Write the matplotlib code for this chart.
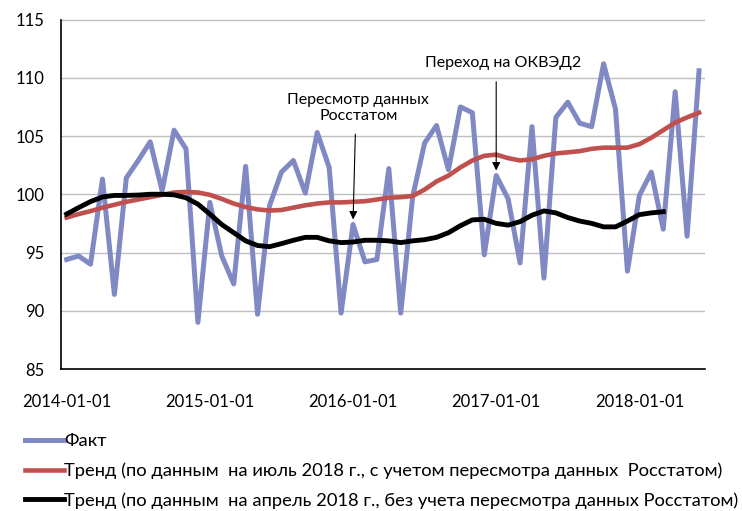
import matplotlib.pyplot as plt
from matplotlib.lines import Line2D

plt.rcParams['font.family'] = ['Lato', 'DejaVu Sans']

# --- DATA (monthly, Jan 2014 .. Jun 2018) ---
fact = [94.4, 94.7, 94.0, 101.3, 91.4, 101.4, 102.9, 104.5, 100.3, 105.5,
        103.9, 89.0, 99.3, 94.7, 92.3, 102.4, 89.7, 99.0, 101.9, 102.9,
        100.1, 105.3, 102.3, 89.8, 97.4, 94.2, 94.4, 102.2, 89.8, 99.8,
        104.4, 105.9, 102.1, 107.5, 107.0, 94.8, 101.6, 99.6, 94.1, 105.8,
        92.8, 106.6, 107.9, 106.1, 105.8, 111.2, 107.3, 93.4, 99.9, 101.9,
        97.0, 108.8, 96.4, 110.6]

trend_jul = [98.0, 98.3, 98.55, 98.85, 99.1, 99.35, 99.55, 99.75, 99.95, 100.15,
             100.2, 100.15, 99.95, 99.6, 99.2, 98.9, 98.7, 98.6, 98.65, 98.85,
             99.05, 99.2, 99.3, 99.3, 99.35, 99.4, 99.55, 99.7, 99.75, 99.85,
             100.4, 101.1, 101.6, 102.3, 102.9, 103.3, 103.4, 103.1, 102.9, 103.0,
             103.3, 103.5, 103.6, 103.7, 103.9, 104.0, 104.0, 104.0, 104.3, 104.85,
             105.5, 106.15, 106.6, 107.0]

trend_apr = [98.3, 98.85, 99.37, 99.77, 99.9, 99.9, 99.93, 100.0, 100.0, 99.95,
             99.7, 99.15, 98.3, 97.4, 96.7, 96.0, 95.6, 95.5, 95.76, 96.05,
             96.3, 96.3, 96.0, 95.85, 95.9, 96.05, 96.05, 96.0, 95.85, 96.0,
             96.1, 96.3, 96.7, 97.3, 97.8, 97.85, 97.5, 97.35, 97.65, 98.2,
             98.57, 98.4, 98.0, 97.7, 97.5, 97.2, 97.2, 97.7, 98.25, 98.4,
             98.5]

tick_labels = ['2014-01-01', '2015-01-01', '2016-01-01', '2017-01-01', '2018-01-01']
tick_pos = [0, 12, 24, 36, 48]

legend_labels = [
    'Факт',
    'Тренд (по данным  на июль 2018 г., с учетом пересмотра данных  Росстатом)',
    'Тренд (по данным  на апрель 2018 г., без учета пересмотра данных Росстатом)',
]

BLUE = '#8189C5'
RED = '#C0504D'

fig = plt.figure(figsize=(7.42, 5.11), dpi=100)
ax = fig.add_axes([60.7 / 742, 1 - 369 / 511, (705 - 60.7) / 742, (369 - 19.5) / 511])

ax.plot(range(len(fact)), fact, color=BLUE, lw=3.6, zorder=2)
ax.plot(range(len(trend_jul)), trend_jul, color=RED, lw=3.3, zorder=3)
ax.plot(range(len(trend_apr)), trend_apr, color='black', lw=3.5, zorder=4)

ax.set_xlim(-0.5, len(fact) - 0.5)
ax.set_ylim(85, 115)
ax.set_yticks(range(85, 116, 5))
ax.set_xticks(tick_pos)
ax.set_xticklabels(tick_labels)
ax.tick_params(axis='both', length=0, labelsize=12)
ax.tick_params(axis='x', pad=18)
ax.tick_params(axis='y', pad=12)
ax.grid(axis='y', color='#BFBFBF', lw=1)
ax.set_axisbelow(True)
for s in ['top', 'right']:
    ax.spines[s].set_visible(False)
for s in ['left', 'bottom']:
    ax.spines[s].set_color('black')
    ax.spines[s].set_linewidth(1.2)

# annotations
ax.annotate('', xy=(24, 97.6), xytext=(24.2, 105.4),
            arrowprops=dict(arrowstyle='-|>', color='black', lw=0.8, mutation_scale=12))
ax.text(24.45, 107.4, 'Пересмотр данных\nРосстатом', ha='center', va='center',
        fontsize=11.5, linespacing=1.2)
ax.annotate('', xy=(36, 101.8), xytext=(36, 109.9),
            arrowprops=dict(arrowstyle='-|>', color='black', lw=0.8, mutation_scale=12))
ax.text(36.6, 111.3, 'Переход на ОКВЭД2', ha='center', va='center', fontsize=11.5)

handles = [Line2D([], [], color=BLUE, lw=3.6),
           Line2D([], [], color=RED, lw=3.3),
           Line2D([], [], color='black', lw=3.5)]
fig.legend(handles, legend_labels, loc='upper left', bbox_to_anchor=(18 / 742, 1 - 426 / 511),
           frameon=False, fontsize=13.2, handlelength=2.1, handletextpad=0.0,
           labelspacing=0.72, borderaxespad=0)

fig.savefig('out.png', dpi=100)
